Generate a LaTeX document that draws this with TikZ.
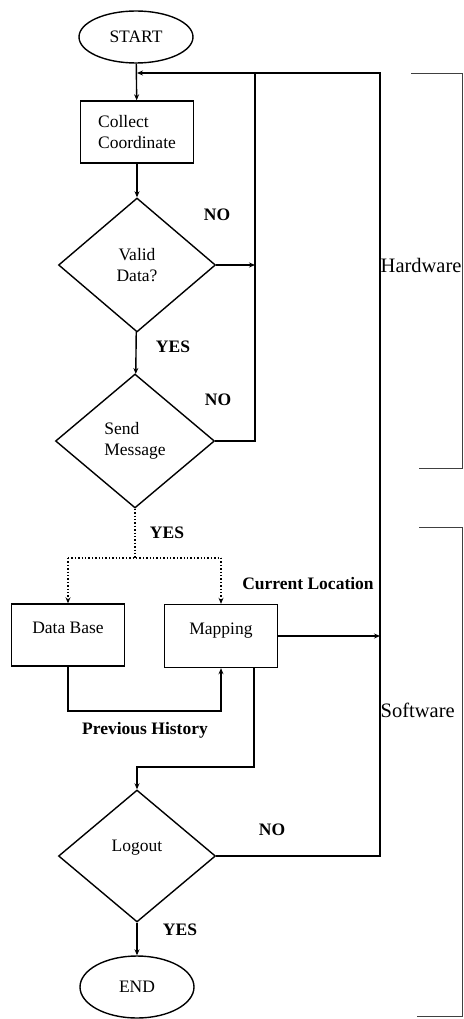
\documentclass[tikz,border=0pt]{standalone}
\usepackage{fontspec}
\setmainfont{Liberation Serif}
\usetikzlibrary{arrows.meta,positioning,shapes.geometric}

\begin{document}
\begin{tikzpicture}[x=1pt, y=-1pt, font=\fontsize{17.5}{21}\selectfont, line width=1.4pt]
  \tikzstyle{blk}=[rectangle,draw,align=center,inner sep=3pt,minimum width=113pt,minimum height=62pt]
  \tikzstyle{dec}=[diamond,draw,align=center,inner sep=0pt,minimum width=157pt,minimum height=134pt]
  \tikzstyle{term}=[ellipse,draw,inner sep=0pt,minimum width=114pt,minimum height=52pt]
  \tikzstyle{lbl}=[font=\fontsize{17.5}{21}\selectfont\bfseries,inner sep=0pt]
  \tikzstyle{side}=[font=\fontsize{20.5}{24}\selectfont,anchor=west,inner sep=0pt]
  \tikzstyle{arr}=[-{Stealth[length=6pt,width=5pt]}]
  \tikzstyle{brk}=[line width=0.8pt,black!75]

  \useasboundingbox (0,0) rectangle (463,1019);

  % flow nodes
  \node[term] (start) at (136,37) {START};
  \node[blk,align=left] (collect) at (137,132) {Collect\\Coordinate};
  \node[dec] (valid) at (137,265) {Valid\\Data?};
  \node[dec,align=left,minimum width=159pt] (send) at (135,441) {Send\\Message};
  \node[blk,text depth=15pt] (db) at (68,635) {Data Base};
  \node[blk,text depth=15pt,minimum height=63pt] (map) at (221,636) {Mapping};
  \node[dec,text depth=20pt,minimum height=132pt] (logout) at (137,856) {Logout};
  \node[term,minimum height=62pt] (end) at (137,987) {END};

  % helper points
  \coordinate (join) at (137,73);
  \coordinate (midtop) at (255,73);
  \coordinate (rtop) at (380,73);
  \coordinate (split) at (135,558);
  \coordinate (hist) at (68,711);
  \coordinate (down) at (254,767);

  % labels
  \node[lbl] (no1) at (217,215) {NO};
  \node[lbl] (yes1) at (173,347) {YES};
  \node[lbl] (no2) at (218,400) {NO};
  \node[lbl] (yes2) at (167,533) {YES};
  \node[lbl] (cur) at (308,584) {Current Location};
  \node[lbl] (prev) at (145,730) {Previous History};
  \node[lbl] (no3) at (272,830) {NO};
  \node[lbl] (yes3) at (180,930) {YES};
  \node[side] (hw) at (380,265) {Hardware};
  \node[side] (sw) at (380,710) {Software};

  % arrows
  \draw[arr] (start) -- (collect);
  \draw[arr] (collect) -- (valid);
  \draw[arr] (valid) -- (send);
  \draw[arr] (valid.east) -- (midtop |- valid.east);
  \draw (send.east) -- (midtop |- send.east) -- (midtop);
  \draw[arr] (logout.east) -- (rtop |- logout.east) -- (rtop) -- (join);
  \draw[dotted] (send.south) -- (split);
  \draw[dotted] (db.north |- split) -- (map.north |- split);
  \draw[dotted,arr] (db.north |- split) -- (db.north);
  \draw[dotted,arr] (map.north |- split) -- (map.north);
  \draw[arr] (map.east) -- (rtop |- map.east);
  \draw[arr] (db.south) -- (hist) -- (map.south |- hist) -- (map.south);
  \draw[arr] (down |- map.south) -- (down) -- (logout.north |- down) -- (logout.north);
  \draw[arr] (logout) -- (end);

  % side brackets
  \draw[brk] (411,73) -- (462,73) -- (462,468) -- (419,468);
  \draw[brk] (419,527) -- (462,527) -- (462,1016) -- (417,1016);
\end{tikzpicture}
\end{document}
